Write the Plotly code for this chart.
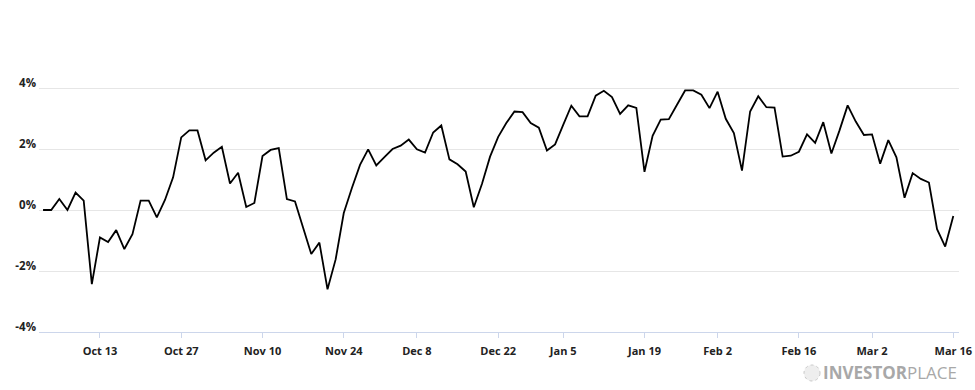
import pandas as pd
import plotly.graph_objects as go

# Trading-day percentage change (Oct 2, 2014 - Mar 16, 2015)
values = [
    0.00, 0.00, 0.36, 0.00, 0.57, 0.31, -2.43, -0.90, -1.05, -0.66,
    -1.28, -0.79, 0.31, 0.31, -0.24, 0.33, 1.07, 2.38, 2.61, 2.61,
    1.63, 1.88, 2.07, 0.87, 1.22, 0.10, 0.23, 1.77, 1.97, 2.03,
    0.36, 0.28, -0.58, -1.44, -1.07, -2.60, -1.62, -0.10, 0.72, 1.48,
    1.99, 1.46, 1.73, 2.00, 2.11, 2.31, 1.99, 1.88, 2.54, 2.77,
    1.66, 1.50, 1.26, 0.09, 0.85, 1.75, 2.40, 2.85, 3.23, 3.21,
    2.85, 2.70, 1.95, 2.15, 2.79, 3.42, 3.07, 3.07, 3.75, 3.91,
    3.70, 3.15, 3.43, 3.35, 1.25, 2.43, 2.96, 2.98, 3.45, 3.92,
    3.92, 3.78, 3.34, 3.88, 2.99, 2.52, 1.29, 3.23, 3.73, 3.37,
    3.36, 1.75, 1.78, 1.91, 2.48, 2.20, 2.88, 1.85, 2.61, 3.43,
    2.90, 2.46, 2.48, 1.52, 2.29, 1.73, 0.40, 1.21, 1.02, 0.90,
    -0.63, -1.20, -0.20,
]

holidays = ["2014-11-27", "2014-12-25", "2015-01-01", "2015-01-19", "2015-02-16"]
dates = [d.strftime("%Y-%m-%d") for d in
         pd.bdate_range("2014-10-02", "2015-03-16", freq="C", holidays=holidays)]
dates = dates[:len(values)]

tick_dates = ["2014-10-13", "2014-10-27", "2014-11-10", "2014-11-24", "2014-12-08",
              "2014-12-22", "2015-01-05", "2015-01-20", "2015-02-02", "2015-02-17",
              "2015-03-02", "2015-03-16"]
tick_labels = ["Oct 13", "Oct 27", "Nov 10", "Nov 24", "Dec 8", "Dec 22", "Jan 5",
               "Jan 19", "Feb 2", "Feb 16", "Mar 2", "Mar 16"]

y_ticks = [-4, -2, 0, 2, 4, 6]
y_labels = ["-4%", "-2%", "0%", "2%", "4%", ""]

fig = go.Figure()
fig.add_trace(go.Scatter(
    x=dates, y=values, mode="lines",
    line=dict(color="#000000", width=1.8),
    hoverinfo="x+y",
))

fig.update_layout(
    width=975, height=390,
    margin=dict(l=39, r=16, t=27, b=58, autoexpand=False),
    paper_bgcolor="white", plot_bgcolor="white",
    showlegend=False,
    font=dict(family="Open Sans", size=11, color="#333333"),
)

fig.update_xaxes(
    type="category",
    range=[-0.5, 112.7],
    automargin=False,
    tickvals=tick_dates, ticktext=tick_labels,
    tickfont=dict(family="Open Sans", size=11, color="#222222", weight="bold"),
    showgrid=False,
    showline=True, linecolor="#ccd6eb", linewidth=1,
    ticks="outside", ticklen=5, tickcolor="#ccd6eb", tickwidth=1,
    ticklabelstandoff=4,
)

fig.update_yaxes(
    range=[-4, 6],
    automargin=False,
    tickvals=y_ticks, ticktext=y_labels,
    tickfont=dict(family="Open Sans", size=11.5, color="#222222", weight="bold"),
    showgrid=True, gridcolor="#e6e6e6", gridwidth=1,
    zeroline=False, showline=False,
    ticklabelshift=-5,
    ticklabelstandoff=2,
    ticks="",
)

# InvestorPlace logo
fig.add_annotation(
    xref="paper", yref="paper", x=1.0, y=-0.134,
    xanchor="right", yanchor="middle",
    text="<b>INVESTOR</b>PLACE", showarrow=False,
    font=dict(family="Open Sans", size=17, color="#a8a8a8"),
)
fig.add_shape(
    type="circle", xref="paper", yref="paper",
    xsizemode="pixel", ysizemode="pixel",
    xanchor=(812 - 39) / 920, yanchor=(332 - 373) / 305,
    x0=-8, x1=8, y0=-8, y1=8,
    line=dict(color="#c8c8c8", width=1, dash="dot"),
    fillcolor="#eeeeee",
)

fig.write_html("out.html")
